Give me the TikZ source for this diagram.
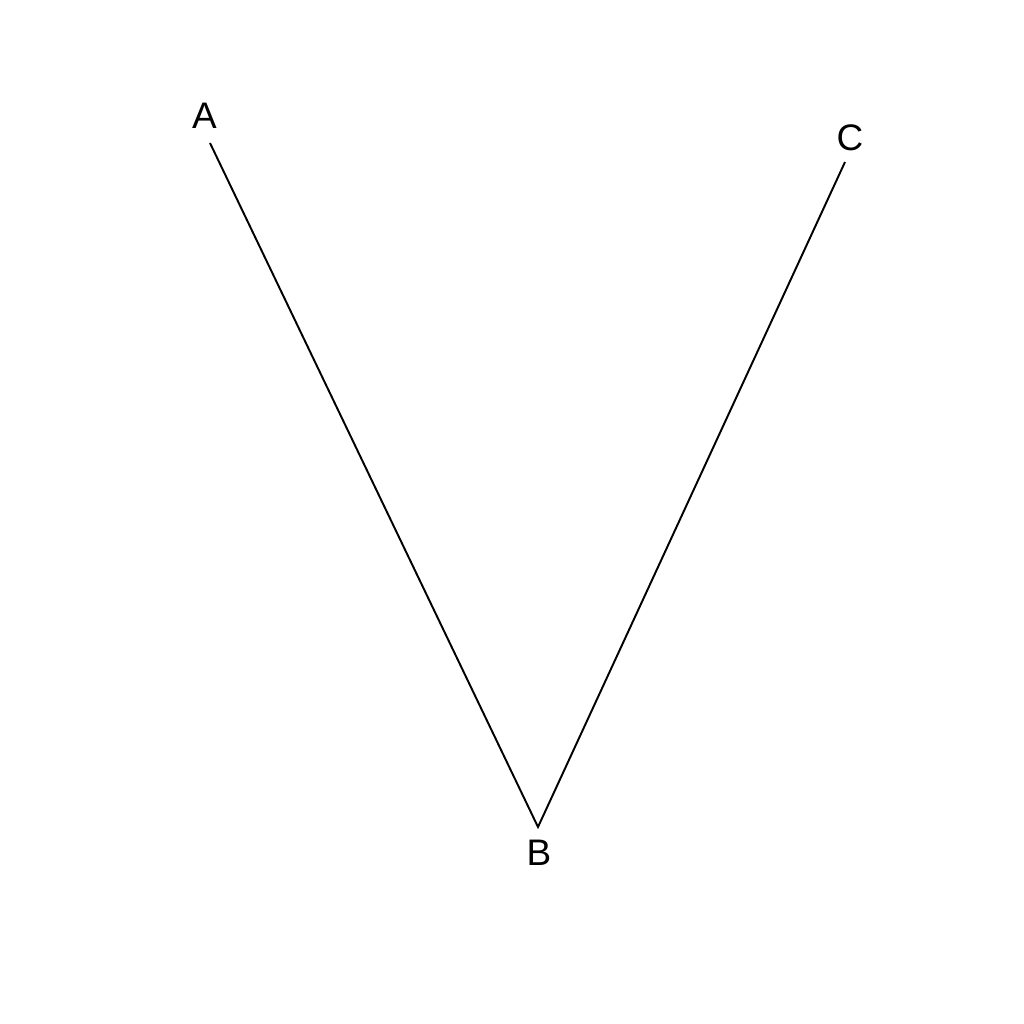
\documentclass[tikz,border=0pt]{standalone}
\usepackage{fontspec}
\setmainfont{Liberation Sans}
\begin{document}
\begin{tikzpicture}[x=0.01cm,y=-0.01cm,
  lbl/.style={font=\fontsize{10.5}{12}\selectfont, inner sep=0pt},
  edge/.style={draw=black, line width=0.55pt}]
\useasboundingbox (0,0) rectangle (1024,1024);
\fill[white] (0,0) rectangle (1024,1024);
\coordinate (a) at (210,143);
\coordinate (b) at (538,827);
\coordinate (c) at (845,162);
\node[lbl] (la) at (204.5,116) {A};
\node[lbl] (lb) at (539,852.5) {B};
\node[lbl] (lc) at (850,138) {C};
\draw[edge] (a) -- (b) -- (c);
\end{tikzpicture}
\end{document}
